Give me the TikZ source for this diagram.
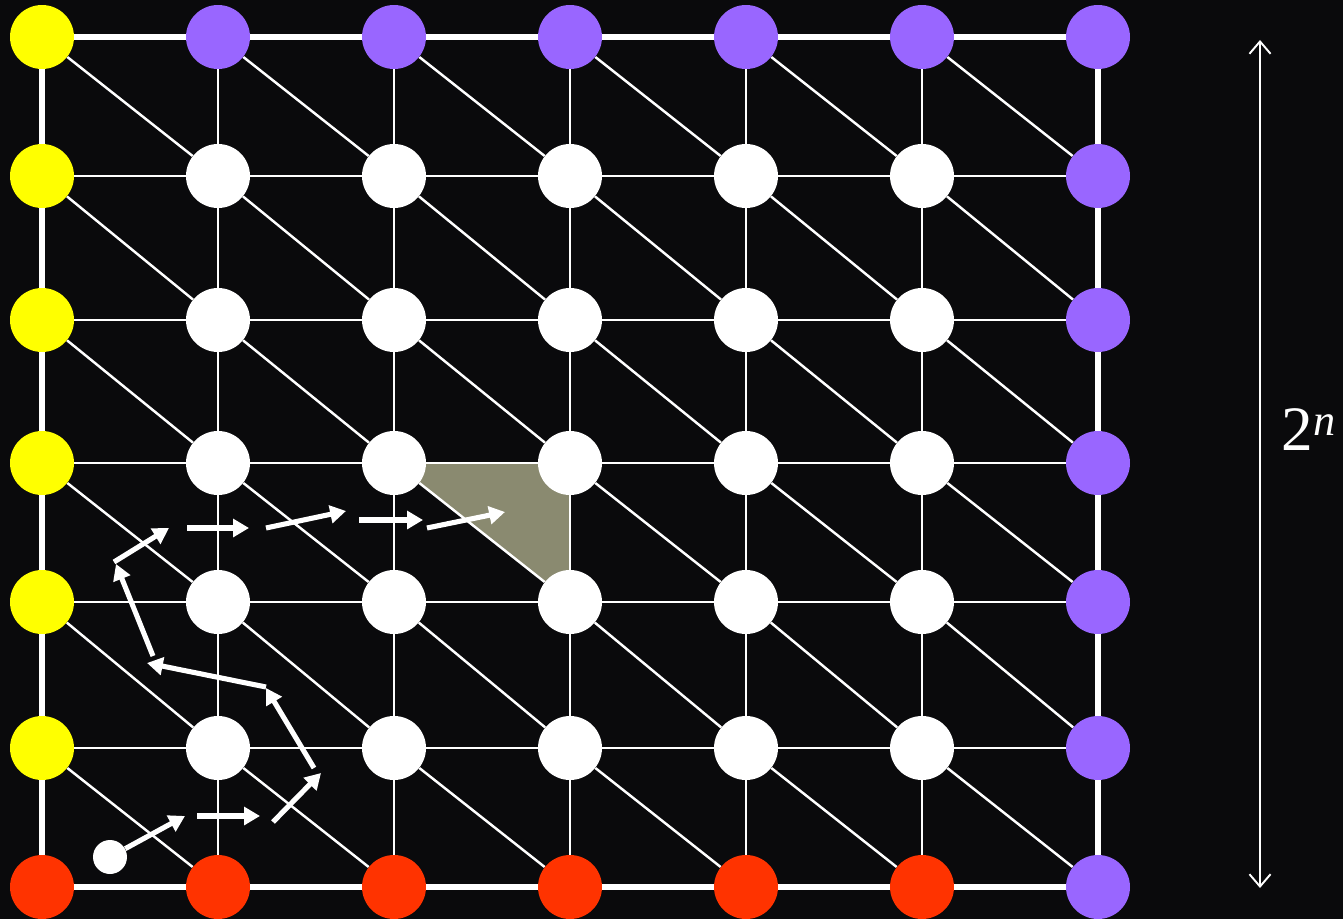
\documentclass[tikz,border=0pt]{standalone}
\usepackage{fontspec}
\setmainfont{Liberation Serif}
\usepackage{tikz}
\usetikzlibrary{arrows.meta}
\definecolor{LatBg}{HTML}{0A0A0C}
\definecolor{LatYellow}{HTML}{FFFF00}
\definecolor{LatPurple}{HTML}{9966FF}
\definecolor{LatRed}{HTML}{FF3300}
\definecolor{LatOlive}{HTML}{8A8A70}

\begin{document}
\begin{tikzpicture}[x=0.02cm,y=-0.02cm,
    site/.style={circle,fill=white,minimum size=1.28cm,inner sep=0pt},
    edge/.style={white,line width=1.4pt},
    frame/.style={white,line width=3.4pt},
    move/.style={white,line width=2.9pt,-{Triangle[length=9pt,width=10pt]}}]
    \useasboundingbox (0,0) rectangle (1343,919);
    \fill[LatBg] (0,0) rectangle (1343,919);
    % lattice positions
    \foreach \x [count=\i from 0] in {42,218,394,570,746,922,1098}{
      \foreach \y [count=\j from 0] in {37,176,320,463,602,748,887}{
        \coordinate (c-\i-\j) at (\x,\y);}}
    \fill[LatOlive] (c-2-3) -- (c-3-3) -- (c-3-4) -- cycle;
    % sites
    \foreach \i in {1,...,5}{
      \foreach \j in {1,...,5}{
        \node[site] (n-\i-\j) at (c-\i-\j) {};}}
    \foreach \j in {0,...,5}{
      \node[site,fill=LatYellow] (n-0-\j) at (c-0-\j) {};}
    \foreach \i in {1,...,6}{
      \node[site,fill=LatPurple] (n-\i-0) at (c-\i-0) {};}
    \foreach \j in {1,...,6}{
      \node[site,fill=LatPurple] (n-6-\j) at (c-6-\j) {};}
    \foreach \i in {0,...,5}{
      \node[site,fill=LatRed] (n-\i-6) at (c-\i-6) {};}
    % bonds
    \foreach \i [evaluate=\i as \k using int(\i+1)] in {0,...,5}{
      \draw[frame] (n-\i-0) -- (n-\k-0);
      \draw[frame] (n-\i-6) -- (n-\k-6);
      \draw[frame] (n-0-\i) -- (n-0-\k);
      \draw[frame] (n-6-\i) -- (n-6-\k);
      \foreach \j [evaluate=\j as \l using int(\j+1)] in {0,...,5}{
        \draw[edge] (n-\i-\j) -- (n-\k-\l);}
      \foreach \j in {1,...,5}{
        \draw[edge] (n-\i-\j) -- (n-\k-\j);
        \draw[edge] (n-\j-\i) -- (n-\j-\k);}}
    % walk
    \node[circle,fill=white,minimum size=0.68cm,inner sep=0pt] (walker) at (110,857) {};
    \coordinate (m0-e) at (185,816);
    \draw[move] (walker) -- (m0-e);
    \foreach \xa/\ya/\xb/\yb [count=\k] in {197/816/260/816, 273/822/321/773,
        314/768/266/688, 266/687/147/663, 153/656/116/564, 114/562/169/528,
        187/528/249/528, 266/528/346/511, 359/520/423/520, 427/528/505/512}{
      \coordinate (m\k-s) at (\xa,\ya);
      \coordinate (m\k-e) at (\xb,\yb);
      \draw[move] (m\k-s) -- (m\k-e);}
    % height
    \coordinate (span-top) at (1260,40);
    \coordinate (span-bot) at (1260,888);
    \draw[white,line width=1.1pt,{Straight Barb[length=7pt,width=12pt]}-{Straight Barb[length=7pt,width=12pt]}]
      (span-top) -- (span-bot);
    \node[text=white,font=\fontsize{36}{40}\selectfont] (span) at (1309,430)
      {2\textsuperscript{\textit{n}}};
\end{tikzpicture}
\end{document}
